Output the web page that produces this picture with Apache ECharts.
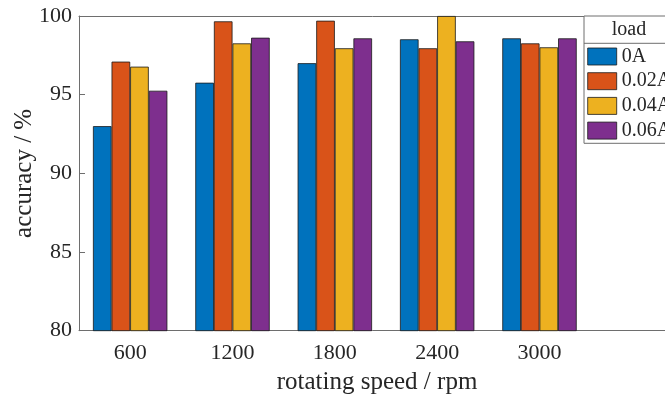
<!DOCTYPE html>
<html>
<head>
<meta charset="utf-8">
<script src="https://cdn.jsdelivr.net/npm/echarts@6/dist/echarts.min.js"></script>
<style>
  html, body { margin: 0; padding: 0; background: #fff; }
  #chart { width: 665px; height: 396px; }
</style>
</head>
<body>
<div id="chart"></div>
<script>
// categories (last slot is empty, as in the original axes)
const speeds = ['600', '1200', '1800', '2400', '3000', ''];
const loads = ['0A', '0.02A', '0.04A', '0.06A'];

// accuracy (%) per load
const acc0A   = [93.0, 95.76, 97.0, 98.52, 98.58];
const acc002A = [97.1, 99.66, 99.7, 97.95, 98.26];
const acc004A = [96.78, 98.26, 97.95, 100.0, 98.01];
const acc006A = [95.25, 98.62, 98.58, 98.39, 98.58];

const yTicks = [80, 85, 90, 95, 100];

const colors = ['#0072BD', '#D95319', '#EDB120', '#7E2F8E'];
const font = "'Liberation Serif', 'Times New Roman', serif";
const textColor = '#262626';
const axisColor = '#6e6e6e';

let myChart = echarts.init(document.getElementById('chart'));

// one bar series per load level
let series = [acc0A, acc002A, acc004A, acc006A].map((d, i) => ({
    name: loads[i],
    type: 'bar',
    data: d,
    barWidth: 18.6,
    barGap: '0%',
    itemStyle: {
        color: colors[i],
        borderColor: '#1a1a1a',
        borderWidth: 0.8
    }
}));

let option = {
    animation: false,
    color: colors,
    textStyle: {fontFamily: font},
    // axes run past the right edge of the picture, like the cropped original
    grid: {left: 79, top: 16, width: 614, height: 314.7, outerBoundsMode: 'none'},
    legend: {
        data: loads,
        orient: 'vertical',
        left: 584,
        top: 16,
        padding: [29.5, 30, 1.7, 3.3],
        itemWidth: 29,
        itemHeight: 17,
        itemGap: 2.7,
        backgroundColor: '#fff',
        borderColor: axisColor,
        borderWidth: 1,
        icon: 'rect',
        itemStyle: {borderColor: '#1a1a1a', borderWidth: 0.8},
        textStyle: {fontFamily: font, fontSize: 20, color: textColor, lineHeight: 22}
    },
    graphic: [
        {
            type: 'line',
            z: 100,
            shape: {x1: 584, y1: 43.3, x2: 665, y2: 43.3},
            style: {stroke: axisColor, lineWidth: 1}
        },
        {
            type: 'text',
            z: 100,
            x: 629,
            y: 30,
            style: {
                text: 'load',
                font: '20px ' + font,
                fill: textColor,
                align: 'center',
                verticalAlign: 'middle'
            }
        }
    ],
    xAxis: [
        {
            type: 'category',
            data: speeds,
            name: 'rotating speed / rpm',
            nameLocation: 'middle',
            nameGap: 39,
            nameTextStyle: {fontSize: 25, color: textColor, padding: [0, 18, 0, 0]},
            axisLine: {lineStyle: {color: axisColor}},
            axisTick: {inside: true, alignWithLabel: true, length: 6, lineStyle: {color: axisColor}},
            axisLabel: {fontSize: 22, color: textColor, margin: 12},
            splitLine: {show: false}
        },
        {
            type: 'category',
            data: speeds,
            position: 'top',
            axisLine: {lineStyle: {color: axisColor}},
            axisTick: {inside: true, alignWithLabel: true, length: 6, lineStyle: {color: axisColor}},
            axisLabel: {show: false}
        }
    ],
    yAxis: {
        type: 'value',
        min: 80,
        max: 100,
        interval: 5,
        name: 'accuracy / %',
        nameLocation: 'middle',
        nameGap: 42,
        nameMoveOverlap: false,
        nameTextStyle: {fontSize: 25, color: textColor},
        axisLine: {show: true, lineStyle: {color: axisColor}},
        axisTick: {show: true, inside: true, length: 6, lineStyle: {color: axisColor}},
        axisLabel: {
            fontSize: 22,
            color: textColor,
            margin: 7,
            formatter: v => (yTicks.indexOf(v) >= 0 ? String(v) : '')
        },
        splitLine: {show: false}
    },
    series: series
};

myChart.setOption(option);
</script>
</body>
</html>
